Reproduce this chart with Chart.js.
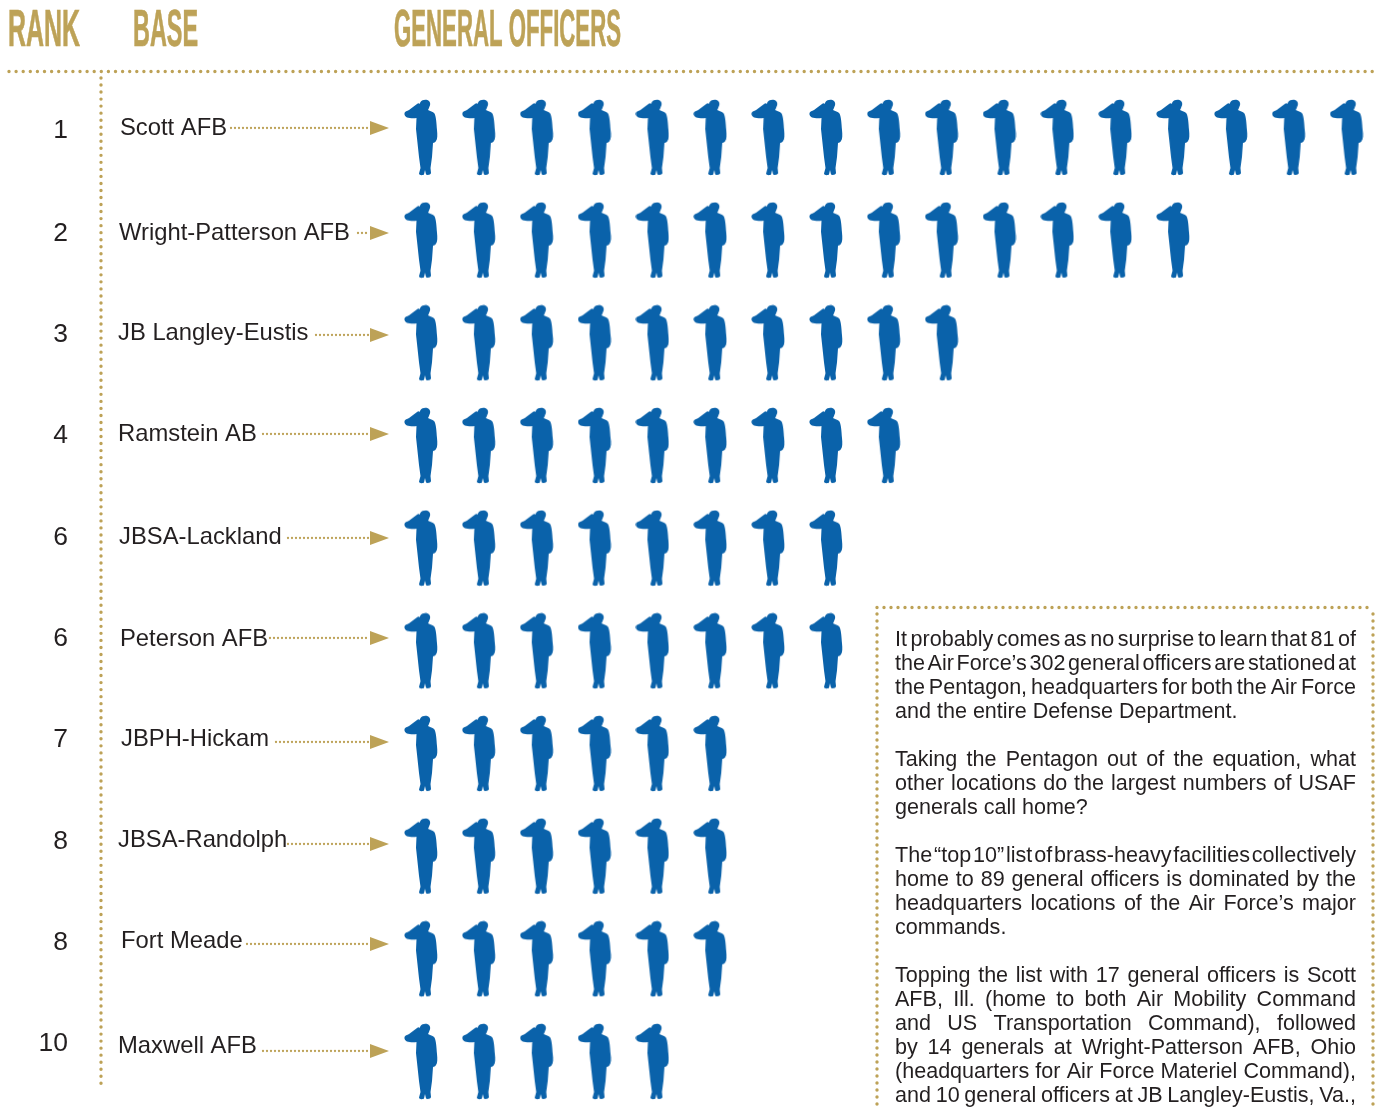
<!DOCTYPE html>
<html>
<head>
<meta charset="utf-8">
<style>
  html, body { margin: 0; padding: 0; background: #fff; }
  #myChart { display: block; }
</style>
<script src="https://cdn.jsdelivr.net/npm/chart.js@4"></script>
</head>
<body>
<canvas id="myChart" width="1380" height="1109"></canvas>
<script>
// values
const ranks = ['1', '2', '3', '4', '6', '6', '7', '8', '8', '10']
const bases = ['Scott AFB', 'Wright-Patterson AFB', 'JB Langley-Eustis', 'Ramstein AB', 'JBSA-Lackland',
    'Peterson AFB', 'JBPH-Hickam', 'JBSA-Randolph', 'Fort Meade', 'Maxwell AFB']
const officers = [17, 14, 10, 9, 8, 8, 6, 6, 6, 5]
const headers = ['RANK', 'BASE', 'GENERAL OFFICERS']

// [text, justified?] one entry per printed line, null is a blank line
const note = [
    ['It probably comes as no surprise to learn that 81 of', 1],
    ['the Air Force\u2019s 302 general officers are stationed at', 1],
    ['the Pentagon, headquarters for both the Air Force', 1],
    ['and the entire Defense Department.', 0],
    null,
    ['Taking the Pentagon out of the equation, what', 1],
    ['other locations do the largest numbers of USAF', 1],
    ['generals call home?', 0],
    null,
    ['The \u201ctop 10\u201d list of brass-heavy facilities collectively', 1],
    ['home to 89 general officers is dominated by the', 1],
    ['headquarters locations of the Air Force\u2019s major', 1],
    ['commands.', 0],
    null,
    ['Topping the list with 17 general officers is Scott', 1],
    ['AFB, Ill. (home to both Air Mobility Command', 1],
    ['and US Transportation Command), followed', 1],
    ['by 14 generals at Wright-Patterson AFB, Ohio', 1],
    ['(headquarters for Air Force Materiel Command),', 1],
    ['and 10 general officers at JB Langley-Eustis, Va.,', 1]
]

// hand placement of the row furniture (the original is not quite regular)
const rankY = [131, 234, 335, 436, 538, 639, 740, 842, 943, 1044]
const baseX = [120, 119, 118, 118, 119, 120, 121, 118, 121, 118]
const baseY = [128, 233, 333, 434, 537, 639, 739, 840, 941, 1046]
const arrowY = [128, 233, 335, 434, 538, 638, 742, 844, 944, 1051]
const leaderX = [231, 358, 316, 263, 288, 270, 276, 288, 247, 263]

const GOLD = '#bda257'
const BLUE = '#0a62aa'
const INK = '#231f20'
const SANS = '"Liberation Sans", Arial, sans-serif'

// saluting figure, used as the point style
function soldier() {
    const c = document.createElement('canvas')
    c.width = 34
    c.height = 78
    const ctx = c.getContext('2d')
    ctx.filter = 'blur(0.5px)'
    ctx.fillStyle = BLUE
    ctx.fill(new Path2D('M0.5 14 C1 12.5 3 12 5 11 L13 5 C14 4 15 4 15.5 5 L16.5 3 C18 0.5 23 0 25 2 C26.5 3.5 26.5 6 25.5 7.5 ' +
        'C25 9 24.5 10 24 11 C26 12 29 12.5 30.5 14.5 C32 17 32.5 24 33 31 C33.5 36 33.5 40 32 42 C31 43.5 30 43.5 29 44 ' +
        'L28 58 L26.5 69 L27 74 C27 76 23 76.5 22 75.5 L21 71 L20 75.5 C19 76.5 15 76.5 15 74.5 L16.5 69 L15 58 L13.5 44 ' +
        'L12 30 L12.5 19 C9 19.5 5 19 3 18.5 C1.5 18 0 16 0.5 14 Z'))
    return c
}

function dotted(ctx, x1, y1, x2, y2, gap, size) {
    ctx.save()
    ctx.strokeStyle = GOLD
    ctx.lineWidth = size
    ctx.lineCap = 'round'
    ctx.setLineDash([0, gap])
    ctx.beginPath()
    ctx.moveTo(x1, y1)
    ctx.lineTo(x2, y2)
    ctx.stroke()
    ctx.restore()
}

function justified(ctx, text, x, y, w, stretch) {
    if (!stretch) { ctx.fillText(text, x, y); return }
    const words = text.split(' ')
    const widths = words.map(t => ctx.measureText(t).width)
    const gap = (w - widths.reduce((a, b) => a + b, 0)) / (words.length - 1)
    let cx = x
    words.forEach((t, i) => {
        ctx.fillText(t, cx, y)
        cx += widths[i] + gap
    })
}

const furniture = {
    id: 'furniture',
    afterDatasetsDraw(chart) {
        const ctx = chart.ctx
        ctx.save()

        // column heads
        ctx.fillStyle = GOLD
        ctx.strokeStyle = GOLD
        ctx.lineWidth = 0.7
        ctx.textBaseline = 'alphabetic'
        ctx.textAlign = 'left'
        ctx.font = 'bold 51px "Liberation Sans Narrow", ' + SANS
        const headX = [8, 133, 394]
        const headW = [72, 65, 227]
        headers.forEach((h, i) => {
            ctx.fillText(h, headX[i], 46, headW[i])
            ctx.strokeText(h, headX[i], 46, headW[i])
        })

        dotted(ctx, 9, 71.5, 1374, 71.5, 7.1, 3.4)
        dotted(ctx, 101, 78, 101, 1084, 7.03, 3.4)

        // rows
        ctx.textBaseline = 'middle'
        ranks.forEach((r, i) => {
            ctx.fillStyle = INK
            ctx.font = '26.5px ' + SANS
            ctx.textAlign = 'right'
            ctx.fillText(r, 68, rankY[i])
            ctx.font = '23.8px ' + SANS
            ctx.textAlign = 'left'
            ctx.fillText(bases[i], baseX[i], baseY[i])

            dotted(ctx, leaderX[i], arrowY[i], 370, arrowY[i], 4, 2.3)
            ctx.fillStyle = GOLD
            ctx.beginPath()
            ctx.moveTo(370, arrowY[i] - 7)
            ctx.lineTo(389, arrowY[i])
            ctx.lineTo(370, arrowY[i] + 7)
            ctx.closePath()
            ctx.fill()
        })

        // side note
        dotted(ctx, 877, 607.5, 1374, 607.5, 7, 3.4)
        dotted(ctx, 877, 614, 877, 1109, 7, 3.4)
        dotted(ctx, 1373, 614, 1373, 1109, 7, 3.4)
        ctx.fillStyle = INK
        ctx.textBaseline = 'alphabetic'
        ctx.textAlign = 'left'
        ctx.font = '21.55px ' + SANS
        note.forEach((line, i) => {
            if (!line) return
            justified(ctx, line[0], 895, 646 + i * 24, 461, line[1])
        })
        ctx.restore()
    }
}

// one point per officer, drawn with the silhouette as its point style
const points = []
officers.forEach((n, row) => {
    for (let i = 1; i <= n; i++) points.push({x: i, y: row})
})

const stepX = 57.85
const stepY = 102.67
const xMin = 1 - 421 / stepX
const yMin = -138 / stepY

new Chart(document.getElementById('myChart'), {
    type: 'scatter',
    data: {
        datasets: [{
            label: 'General officers',
            data: points,
            pointStyle: soldier(),
            clip: false
        }]
    },
    options: {
        responsive: false,
        animation: false,
        layout: {padding: 0, autoPadding: false},
        scales: {
            x: {display: false, min: xMin, max: xMin + 1380 / stepX},
            y: {display: false, reverse: true, min: yMin, max: yMin + 1109 / stepY}
        },
        plugins: {
            legend: {display: false},
            tooltip: {enabled: false}
        }
    },
    plugins: [furniture]
})
</script>
</body>
</html>
